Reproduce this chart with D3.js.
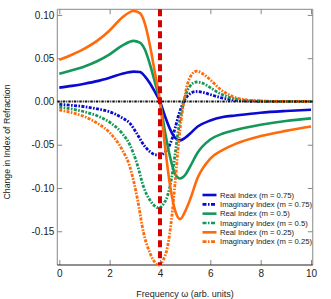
<!DOCTYPE html>
<html>
<head>
<meta charset="utf-8">
<script src="https://cdn.jsdelivr.net/npm/d3@7"></script>
<style>
  body { margin: 0; background: #fff; }
  text { font-family: "Liberation Sans", Arial, sans-serif; fill: #222; }
</style>
</head>
<body>
<svg id="chart"></svg>
<script>
// frequency samples for the real index curves
const realX = [0, 0.5, 1, 1.5, 2, 2.5, 2.95, 3.2, 3.4, 3.6, 3.8, 4, 4.2, 4.4, 4.6, 4.8, 5.0, 5.2, 5.5, 6, 6.5, 7, 8, 9, 10];
const realM075 = [0.016, 0.018, 0.0205, 0.0235, 0.0275, 0.032, 0.0345, 0.034, 0.029, 0.021, 0.011, 0, -0.017, -0.032, -0.042, -0.045, -0.042, -0.037, -0.029, -0.022, -0.018, -0.0162, -0.013, -0.011, -0.0095];
const realM050 = [0.032, 0.036, 0.0405, 0.0465, 0.0545, 0.0645, 0.070, 0.068, 0.060, 0.043, 0.022, 0, -0.035, -0.064, -0.084, -0.089, -0.085, -0.075, -0.059, -0.044, -0.037, -0.033, -0.027, -0.0225, -0.0195];
const realM025 = [0.048, 0.054, 0.061, 0.070, 0.082, 0.097, 0.1045, 0.102, 0.090, 0.065, 0.033, 0, -0.052, -0.097, -0.126, -0.136, -0.127, -0.113, -0.088, -0.066, -0.056, -0.049, -0.040, -0.034, -0.029];

// frequency samples for the imaginary index curves
const imagX = [0, 0.5, 1, 1.5, 2, 2.5, 2.8, 3.1, 3.35, 3.6, 3.8, 3.97, 4.15, 4.3, 4.47, 4.6, 4.75, 4.95, 5.15, 5.45, 5.7, 6, 6.4, 6.9, 7.5, 8, 9, 10];
const imagM075 = [-0.0033, -0.0045, -0.006, -0.0085, -0.012, -0.019, -0.025, -0.038, -0.050, -0.058, -0.0615, -0.062, -0.060, -0.055, -0.044, -0.031, -0.015, 0, 0.008, 0.0115, 0.0105, 0.008, 0.0045, 0.0018, 0.0005, 0.0002, 0, 0];
const imagM050 = [-0.0065, -0.0088, -0.012, -0.0165, -0.024, -0.037, -0.050, -0.073, -0.099, -0.114, -0.121, -0.123, -0.118, -0.109, -0.087, -0.061, -0.029, 0, 0.016, 0.0225, 0.021, 0.016, 0.009, 0.0035, 0.001, 0.0003, 0, 0];
const imagM025 = [-0.0098, -0.013, -0.0175, -0.025, -0.036, -0.056, -0.075, -0.112, -0.152, -0.175, -0.186, -0.189, -0.182, -0.168, -0.133, -0.094, -0.045, 0, 0.025, 0.035, 0.032, 0.025, 0.014, 0.0055, 0.0015, 0.0005, 0, 0];

const xTicks = [0, 2, 4, 6, 8, 10];
const yTicks = [-0.15, -0.10, -0.05, 0, 0.05, 0.10];
const resonance = 4;

const seriesNames = ["Real Index (m = 0.75)", "Imaginary Index (m = 0.75)", "Real Index (m = 0.5)", "Imaginary Index (m = 0.5)", "Real Index (m = 0.25)", "Imaginary Index (m = 0.25)"];
const seriesColors = ["#0a0ad0", "#0a0ad0", "#16975a", "#16975a", "#ff6a0a", "#ff6a0a"];

const width = 331;
const height = 299;
const imagDash = "3,1.4,1.6,1.4";

const svg = d3.select("#chart")
  .attr("width", width)
  .attr("height", height);

const x = d3.scaleLinear().domain([0, 10]).range([59.3, 311]);
const y = d3.scaleLinear().domain([-0.189, 0.1065]).range([265, 9.3]);
const plotLeft = x(-0.08), plotRight = x(10.07), plotTop = y(0.1065), plotBottom = y(-0.189);

// таблица серий для рисования
const series = [
  { xs: realX, ys: realM075, imag: false },
  { xs: imagX, ys: imagM075, imag: true },
  { xs: realX, ys: realM050, imag: false },
  { xs: imagX, ys: imagM050, imag: true },
  { xs: realX, ys: realM025, imag: false },
  { xs: imagX, ys: imagM025, imag: true }
].map((s, i) => ({ ...s, name: seriesNames[i], color: seriesColors[i] }));

const fmt = d => d3.format(".2f")(d).replace("\u2212", "-");

// оси
svg.append("g")
  .attr("transform", `translate(0, ${plotBottom})`)
  .call(d3.axisBottom(x).tickValues(xTicks).tickSize(-5).tickPadding(5))
  .call(g => g.select(".domain").remove())
  .call(g => g.selectAll("line").attr("stroke", "#888"))
  .call(g => g.selectAll("text").style("font-size", "10px").attr("fill", "#222"));

svg.append("g")
  .attr("transform", `translate(0, ${plotTop})`)
  .call(d3.axisTop(x).tickValues(xTicks).tickSize(-5).tickFormat(""))
  .call(g => g.select(".domain").remove())
  .call(g => g.selectAll("line").attr("stroke", "#888"));

svg.append("g")
  .attr("transform", `translate(${plotLeft}, 0)`)
  .call(d3.axisLeft(y).tickValues(yTicks).tickSize(-5).tickPadding(3).tickFormat(fmt))
  .call(g => g.select(".domain").remove())
  .call(g => g.selectAll("line").attr("stroke", "#888"))
  .call(g => g.selectAll("text").style("font-size", "10px").attr("fill", "#222"));

svg.append("g")
  .attr("transform", `translate(${plotRight}, 0)`)
  .call(d3.axisRight(y).tickValues(yTicks).tickSize(-5).tickFormat(""))
  .call(g => g.select(".domain").remove())
  .call(g => g.selectAll("line").attr("stroke", "#888"));

// рамка
svg.append("path")
  .attr("d", `M${plotLeft},${plotBottom}V${plotTop}H${plotRight}V${plotBottom}`)
  .attr("fill", "none")
  .attr("stroke", "#888")
  .attr("stroke-width", 1);
svg.append("line")
  .attr("x1", plotLeft).attr("x2", plotRight)
  .attr("y1", plotBottom).attr("y2", plotBottom)
  .attr("stroke", "#222")
  .attr("stroke-width", 1.2);

// кривые
const line = d3.line()
  .x(d => x(d[0]))
  .y(d => y(d[1]))
  .curve(d3.curveMonotoneX);

series.forEach(s => {
  svg.append("path")
    .datum(s.xs.map((v, i) => [v, s.ys[i]]))
    .attr("d", line)
    .attr("fill", "none")
    .attr("stroke", s.color)
    .attr("stroke-width", s.imag ? 2.8 : 2.6)
    .attr("stroke-dasharray", s.imag ? imagDash : null);
});

// нулевая линия
svg.append("line")
  .attr("x1", plotLeft).attr("x2", plotRight)
  .attr("y1", y(0)).attr("y2", y(0))
  .attr("stroke", "#111")
  .attr("stroke-width", 2)
  .attr("stroke-dasharray", "2.5,1,1,1");

// резонанс
svg.append("line")
  .attr("x1", x(resonance)).attr("x2", x(resonance))
  .attr("y1", plotTop).attr("y2", plotBottom)
  .attr("stroke", "#d40000")
  .attr("stroke-width", 4)
  .attr("stroke-dasharray", "7,4");

// легенда
const legend = svg.append("g").attr("transform", "translate(202.5, 195)");
series.forEach((s, i) => {
  const row = legend.append("g").attr("transform", `translate(0, ${i * 9.33})`);
  row.append("line")
    .attr("x1", 0).attr("x2", 14)
    .attr("stroke", s.color)
    .attr("stroke-width", 2.6)
    .attr("stroke-dasharray", s.imag ? "4,1.5,1.5,1.5" : null);
  row.append("text")
    .attr("x", 17.5)
    .attr("dy", "0.35em")
    .style("font-size", "7.7px")
    .text(s.name);
});

// подписи осей
svg.append("text")
  .attr("x", (plotLeft + plotRight) / 2)
  .attr("y", 297)
  .attr("text-anchor", "middle")
  .style("font-size", "9px")
  .text("Frequency \u03C9 (arb. units)");

svg.append("text")
  .attr("transform", "translate(9.5, 142) rotate(-90)")
  .attr("text-anchor", "middle")
  .style("font-size", "8.7px")
  .text("Change in Index of Refraction");
</script>
</body>
</html>
